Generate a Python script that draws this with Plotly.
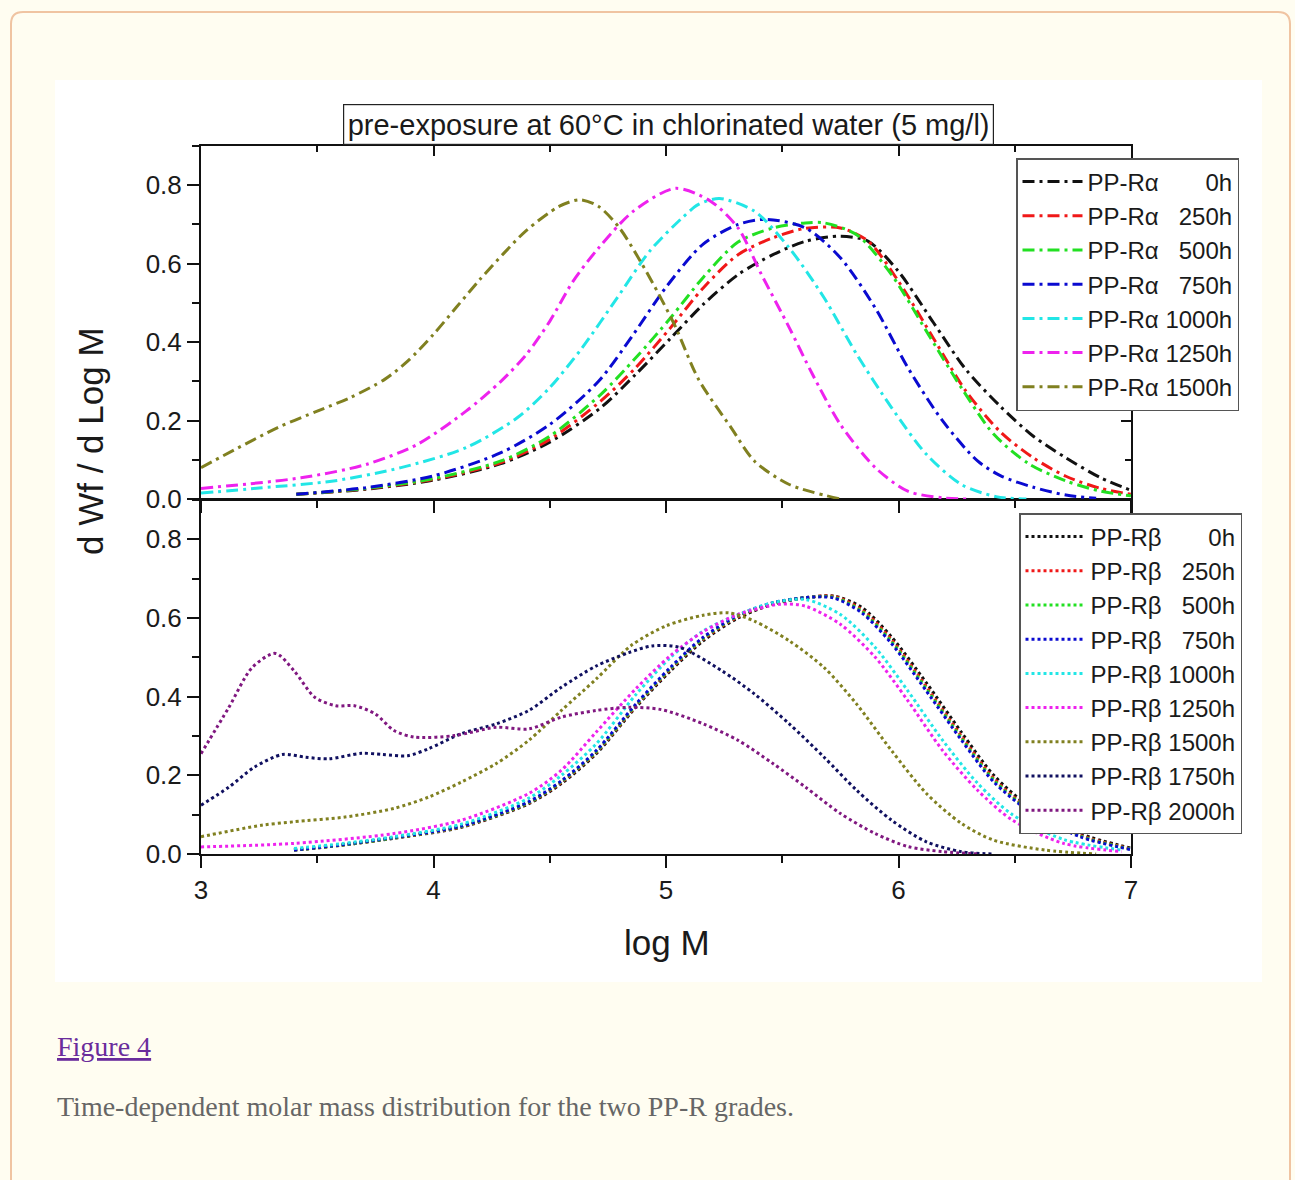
import plotly.graph_objects as go

# ---------------- data ----------------
# Top panel: PP-R alpha, dash-dot lines
alpha_labels = ["0h", "250h", "500h", "750h", "1000h", "1250h", "1500h"]

a_0h_x = [3.41, 3.71, 4.00, 4.29, 4.50, 4.72, 4.87, 5.02, 5.16, 5.31, 5.46, 5.60, 5.75, 5.87, 6.00, 6.15, 6.29, 6.44, 6.58, 6.72, 6.87, 7.00]
a_0h_y = [0.012, 0.025, 0.048, 0.090, 0.145, 0.233, 0.318, 0.410, 0.496, 0.572, 0.623, 0.657, 0.670, 0.657, 0.580, 0.450, 0.330, 0.235, 0.160, 0.105, 0.054, 0.022]

a_250h_x = [3.41, 3.71, 4.00, 4.29, 4.50, 4.72, 4.87, 5.02, 5.16, 5.31, 5.46, 5.60, 5.75, 5.87, 6.00, 6.15, 6.29, 6.44, 6.58, 6.72, 6.87, 7.00]
a_250h_y = [0.012, 0.026, 0.050, 0.093, 0.152, 0.250, 0.335, 0.437, 0.538, 0.623, 0.666, 0.690, 0.691, 0.657, 0.555, 0.410, 0.275, 0.170, 0.105, 0.058, 0.027, 0.012]

a_500h_x = [3.41, 3.71, 4.00, 4.29, 4.50, 4.72, 4.87, 5.02, 5.16, 5.31, 5.46, 5.60, 5.68, 5.82, 5.97, 6.12, 6.27, 6.41, 6.56, 6.72, 6.87, 7.00]
a_500h_y = [0.012, 0.027, 0.052, 0.097, 0.160, 0.267, 0.360, 0.462, 0.565, 0.655, 0.691, 0.704, 0.704, 0.674, 0.572, 0.428, 0.284, 0.165, 0.090, 0.046, 0.020, 0.008]

a_750h_x = [3.41, 3.71, 4.00, 4.29, 4.50, 4.71, 4.86, 5.00, 5.16, 5.31, 5.43, 5.60, 5.75, 5.90, 6.04, 6.19, 6.34, 6.44, 6.58, 6.72, 6.85]
a_750h_y = [0.012, 0.029, 0.059, 0.118, 0.190, 0.300, 0.420, 0.540, 0.650, 0.700, 0.713, 0.691, 0.615, 0.487, 0.335, 0.199, 0.097, 0.059, 0.030, 0.010, 0.002]

a_1000h_x = [3.00, 3.25, 3.57, 3.86, 4.14, 4.36, 4.50, 4.64, 4.79, 4.93, 5.07, 5.14, 5.23, 5.38, 5.53, 5.68, 5.82, 5.97, 6.12, 6.27, 6.42, 6.55]
a_1000h_y = [0.015, 0.028, 0.046, 0.080, 0.131, 0.207, 0.284, 0.386, 0.513, 0.632, 0.717, 0.751, 0.766, 0.734, 0.640, 0.513, 0.369, 0.233, 0.114, 0.037, 0.006, 0.000]

a_1250h_x = [3.00, 3.43, 3.71, 3.93, 4.14, 4.29, 4.40, 4.50, 4.60, 4.71, 4.86, 5.04, 5.19, 5.31, 5.41, 5.53, 5.63, 5.75, 5.90, 6.04, 6.19, 6.30]
a_1250h_y = [0.027, 0.054, 0.088, 0.139, 0.224, 0.300, 0.369, 0.453, 0.555, 0.640, 0.734, 0.792, 0.760, 0.691, 0.573, 0.437, 0.318, 0.190, 0.080, 0.020, 0.003, 0.000]

a_1500h_x = [3.00, 3.33, 3.50, 3.64, 3.79, 3.89, 4.00, 4.10, 4.20, 4.30, 4.40, 4.54, 4.63, 4.71, 4.80, 4.89, 4.97, 5.04, 5.14, 5.28, 5.38, 5.53, 5.75]
a_1500h_y = [0.080, 0.182, 0.224, 0.258, 0.305, 0.352, 0.420, 0.490, 0.560, 0.625, 0.685, 0.746, 0.763, 0.746, 0.691, 0.606, 0.521, 0.440, 0.305, 0.182, 0.097, 0.037, 0.000]

# Bottom panel: PP-R beta, dotted lines
beta_labels = ["0h", "250h", "500h", "750h", "1000h", "1250h", "1500h", "1750h", "2000h"]

b_grp_x = [3.40, 3.60, 3.83, 4.12, 4.41, 4.55, 4.70, 4.87, 5.02, 5.16, 5.31, 5.46, 5.60, 5.72, 5.84, 5.97, 6.12, 6.27, 6.41, 6.56, 6.78, 7.00]
b_0h_y = [0.010, 0.022, 0.040, 0.068, 0.128, 0.179, 0.255, 0.373, 0.466, 0.542, 0.600, 0.635, 0.651, 0.656, 0.628, 0.552, 0.435, 0.310, 0.200, 0.122, 0.052, 0.015]
b_250h_y = [0.010, 0.022, 0.041, 0.069, 0.130, 0.182, 0.258, 0.376, 0.470, 0.546, 0.603, 0.637, 0.652, 0.655, 0.622, 0.545, 0.425, 0.300, 0.192, 0.116, 0.048, 0.013]
b_500h_y = [0.010, 0.022, 0.041, 0.070, 0.131, 0.184, 0.260, 0.378, 0.472, 0.548, 0.605, 0.638, 0.652, 0.653, 0.618, 0.540, 0.420, 0.295, 0.188, 0.113, 0.046, 0.012]
b_750h_y = [0.010, 0.023, 0.042, 0.071, 0.133, 0.186, 0.263, 0.381, 0.475, 0.551, 0.607, 0.639, 0.652, 0.651, 0.614, 0.535, 0.414, 0.290, 0.183, 0.110, 0.044, 0.011]

b_1000h_x = [3.40, 3.60, 3.83, 4.12, 4.41, 4.55, 4.70, 4.87, 5.02, 5.16, 5.31, 5.46, 5.60, 5.75, 5.90, 6.04, 6.19, 6.34, 6.49, 6.71, 6.96]
b_1000h_y = [0.014, 0.026, 0.044, 0.076, 0.142, 0.200, 0.280, 0.405, 0.500, 0.567, 0.609, 0.639, 0.647, 0.609, 0.525, 0.415, 0.289, 0.180, 0.100, 0.037, 0.010]

b_1250h_x = [3.00, 3.40, 3.83, 4.12, 4.41, 4.55, 4.70, 4.87, 5.02, 5.16, 5.31, 5.49, 5.60, 5.75, 5.90, 6.04, 6.19, 6.34, 6.49, 6.71, 6.96]
b_1250h_y = [0.018, 0.027, 0.052, 0.086, 0.154, 0.213, 0.310, 0.420, 0.505, 0.565, 0.609, 0.635, 0.630, 0.584, 0.500, 0.390, 0.263, 0.162, 0.086, 0.027, 0.006]

b_1500h_x = [3.00, 3.26, 3.40, 3.62, 3.83, 3.98, 4.12, 4.27, 4.41, 4.55, 4.70, 4.85, 5.00, 5.16, 5.27, 5.38, 5.53, 5.68, 5.82, 5.97, 6.12, 6.27, 6.41, 6.63, 6.85]
b_1500h_y = [0.044, 0.073, 0.082, 0.094, 0.116, 0.145, 0.183, 0.230, 0.289, 0.365, 0.445, 0.530, 0.580, 0.607, 0.613, 0.592, 0.542, 0.474, 0.381, 0.263, 0.154, 0.078, 0.035, 0.010, 0.000]

b_1750h_x = [3.00, 3.12, 3.23, 3.35, 3.45, 3.55, 3.69, 3.78, 3.89, 3.98, 4.12, 4.27, 4.41, 4.55, 4.70, 4.84, 4.94, 5.06, 5.24, 5.38, 5.53, 5.68, 5.82, 5.97, 6.12, 6.27, 6.40]
b_1750h_y = [0.124, 0.170, 0.221, 0.253, 0.246, 0.242, 0.256, 0.253, 0.250, 0.268, 0.306, 0.331, 0.365, 0.424, 0.478, 0.512, 0.529, 0.525, 0.466, 0.407, 0.331, 0.246, 0.162, 0.086, 0.031, 0.006, 0.000]

b_2000h_x = [3.00, 3.12, 3.22, 3.32, 3.40, 3.49, 3.58, 3.66, 3.75, 3.83, 3.92, 4.09, 4.27, 4.41, 4.55, 4.70, 4.84, 4.98, 5.16, 5.31, 5.46, 5.60, 5.75, 5.90, 6.04, 6.19, 6.35]
b_2000h_y = [0.255, 0.373, 0.474, 0.510, 0.466, 0.398, 0.377, 0.377, 0.356, 0.314, 0.297, 0.301, 0.322, 0.318, 0.348, 0.365, 0.373, 0.367, 0.331, 0.289, 0.230, 0.170, 0.103, 0.052, 0.019, 0.006, 0.000]

x_ticks = [3, 4, 5, 6, 7]
y_ticks = [0.0, 0.2, 0.4, 0.6, 0.8]

# ---------------- styling ----------------
alpha_colors = ["#111111", "#f01818", "#22e022", "#0a0ad0", "#22e6e6", "#ee22ee", "#808020"]
beta_colors = ["#111111", "#f01818", "#22e022", "#0a0ad0", "#22e6e6", "#ee22ee", "#808020", "#101060", "#801880"]

FONT = "Liberation Sans, Arial, sans-serif"
SERIF = "Liberation Serif, Times New Roman, serif"
W, H = 1295, 1180
PL, PR, PT, PB = 201, 1131, 146, 854   # plot-area edges in px


def fx(p):
    return (p - PL) / (PR - PL)


def fy(p):
    return (PB - p) / (PB - PT)


NB = "\u00a0"


def label(grade, hours):
    digits = len(hours) - 1
    pad = 1 + 2 * (4 - digits)
    return "PP-R" + grade + NB * pad + hours


fig = go.Figure()

alpha_x = [a_0h_x, a_250h_x, a_500h_x, a_750h_x, a_1000h_x, a_1250h_x, a_1500h_x]
alpha_y = [a_0h_y, a_250h_y, a_500h_y, a_750h_y, a_1000h_y, a_1250h_y, a_1500h_y]
for lab, xs, ys, col in zip(alpha_labels, alpha_x, alpha_y, alpha_colors):
    fig.add_trace(go.Scatter(
        x=xs, y=ys, mode="lines", name=label("\u03b1", lab),
        line=dict(color=col, width=3, dash="12px,5px,3px,5px", shape="spline", smoothing=0.8),
        xaxis="x2", yaxis="y2", legend="legend", hoverinfo="skip"))

beta_x = [b_grp_x, b_grp_x, b_grp_x, b_grp_x, b_1000h_x, b_1250h_x, b_1500h_x, b_1750h_x, b_2000h_x]
beta_y = [b_0h_y, b_250h_y, b_500h_y, b_750h_y, b_1000h_y, b_1250h_y, b_1500h_y, b_1750h_y, b_2000h_y]
for lab, xs, ys, col in zip(beta_labels, beta_x, beta_y, beta_colors):
    fig.add_trace(go.Scatter(
        x=xs, y=ys, mode="lines", name=label("\u03b2", lab),
        line=dict(color=col, width=3, dash="3px,3px", shape="spline", smoothing=0.8),
        xaxis="x", yaxis="y", legend="legend2", hoverinfo="skip"))

# invisible helpers so the inward-tick overlay axes are drawn
fig.add_trace(go.Scatter(x=[None], y=[None], xaxis="x3", yaxis="y3", showlegend=False, hoverinfo="skip"))
fig.add_trace(go.Scatter(x=[None], y=[None], xaxis="x4", yaxis="y4", showlegend=False, hoverinfo="skip"))

tickfont = dict(family=FONT, size=26, color="#1a1a1a")

main_x = dict(range=[3, 7], tickmode="array", tickvals=x_ticks, ticks="outside", ticklen=12,
              tickwidth=2, tickcolor="#111", showline=True, linewidth=2, linecolor="#111",
              mirror=True, showgrid=False, zeroline=False, tickfont=tickfont,
              minor=dict(dtick=0.5, tick0=3, ticks="outside", ticklen=7, tickwidth=2, tickcolor="#111"))
main_y = dict(range=[0, 0.9], tickmode="array", tickvals=y_ticks, tickformat=".1f", ticks="outside",
              ticklen=12, tickwidth=2, tickcolor="#111", showline=True, linewidth=2, linecolor="#111",
              mirror=True, showgrid=False, zeroline=False, tickfont=tickfont,
              minor=dict(dtick=0.1, tick0=0, ticks="outside", ticklen=7, tickwidth=2, tickcolor="#111"))
over_x = dict(range=[3, 7], tickmode="array", tickvals=x_ticks, ticks="inside", ticklen=10, tickwidth=2,
              tickcolor="#111", showline=False, showgrid=False, zeroline=False, showticklabels=False,
              side="top", minor=dict(dtick=0.5, tick0=3, ticks="inside", ticklen=6, tickwidth=2, tickcolor="#111"))
over_y = dict(range=[0, 0.9], tickmode="array", tickvals=y_ticks, ticks="inside", ticklen=10, tickwidth=2,
              tickcolor="#111", showline=False, showgrid=False, zeroline=False, showticklabels=False,
              side="right", minor=dict(dtick=0.1, tick0=0, ticks="inside", ticklen=6, tickwidth=2, tickcolor="#111"))

split_lo = fy(500)
split_hi = fy(499)

legend_style = dict(xanchor="left", yanchor="top", bgcolor="white", bordercolor="#555", borderwidth=1.5,
                    font=dict(family=FONT, size=24, color="#1a1a1a"), itemwidth=60, tracegroupgap=0)

fig.update_layout(
    width=W, height=H,
    margin=dict(l=PL, r=W - PR, t=PT, b=H - PB, pad=0),
    paper_bgcolor="#fffdf1", plot_bgcolor="white",
    font=dict(family=FONT, color="#1a1a1a"),
    showlegend=True,
    xaxis=dict(main_x, domain=[0, 1], anchor="y"),
    yaxis=dict(main_y, domain=[0, split_lo], anchor="x"),
    xaxis2=dict(main_x, domain=[0, 1], anchor="y2", matches="x", showticklabels=False),
    yaxis2=dict(main_y, domain=[split_hi, 1], anchor="x2"),
    xaxis3=dict(over_x, overlaying="x", anchor="y"),
    yaxis3=dict(over_y, overlaying="y", anchor="x"),
    xaxis4=dict(over_x, overlaying="x2", anchor="y2"),
    yaxis4=dict(over_y, overlaying="y2", anchor="x2"),
    legend=dict(legend_style, x=fx(1016), y=fy(158)),
    legend2=dict(legend_style, x=fx(1019), y=fy(513)),
)

# page frame: white figure area and rounded peach border
rx, ry = 12 / (PR - PL), 12 / (PB - PT)
bx0, bx1, by0, by1 = fx(11), fx(1290), fy(1200), fy(12)
border_path = (f"M{bx0},{by0} L{bx0},{by1 - ry} Q{bx0},{by1} {bx0 + rx},{by1} "
               f"L{bx1 - rx},{by1} Q{bx1},{by1} {bx1},{by1 - ry} L{bx1},{by0}")
fig.add_shape(type="path", path=border_path, xref="paper", yref="paper",
              line=dict(color="#f0c4a2", width=2), layer="below")
fig.add_shape(type="rect", xref="paper", yref="paper", x0=fx(55), x1=fx(1262), y0=fy(982), y1=fy(80),
              fillcolor="white", line=dict(width=0), layer="below")

# title box
fig.add_annotation(text="pre-exposure at 60\u00b0C in chlorinated water (5 mg/l)", xref="paper", yref="paper",
                   x=fx(668), y=fy(124), xanchor="center", yanchor="middle", showarrow=False,
                   font=dict(family=FONT, size=29, color="#1a1a1a"), bgcolor="white",
                   bordercolor="#222", borderwidth=1.2, borderpad=3.5)
# axis titles
fig.add_annotation(text="log M", xref="paper", yref="paper", x=fx(667), y=fy(942),
                   xanchor="center", yanchor="middle", showarrow=False,
                   font=dict(family=FONT, size=35, color="#1a1a1a"))
fig.add_annotation(text="d Wf / d Log M", xref="paper", yref="paper", x=fx(90), y=fy(441),
                   xanchor="center", yanchor="middle", showarrow=False, textangle=-90,
                   font=dict(family=FONT, size=35, color="#1a1a1a"))
# caption
fig.add_annotation(text="<u>Figure 4</u>", xref="paper", yref="paper", x=fx(55), y=fy(1046),
                   xanchor="left", yanchor="middle", showarrow=False,
                   font=dict(family=SERIF, size=28, color="#6a2c9c"))
fig.add_annotation(text="Time-dependent molar mass distribution for the two PP-R grades.",
                   xref="paper", yref="paper", x=fx(55), y=fy(1106),
                   xanchor="left", yanchor="middle", showarrow=False,
                   font=dict(family=SERIF, size=28, color="#666666"))

fig.write_html("out.html", config={"displayModeBar": False},
               post_script="document.body.style.margin='0';document.body.style.overflow='hidden';")
